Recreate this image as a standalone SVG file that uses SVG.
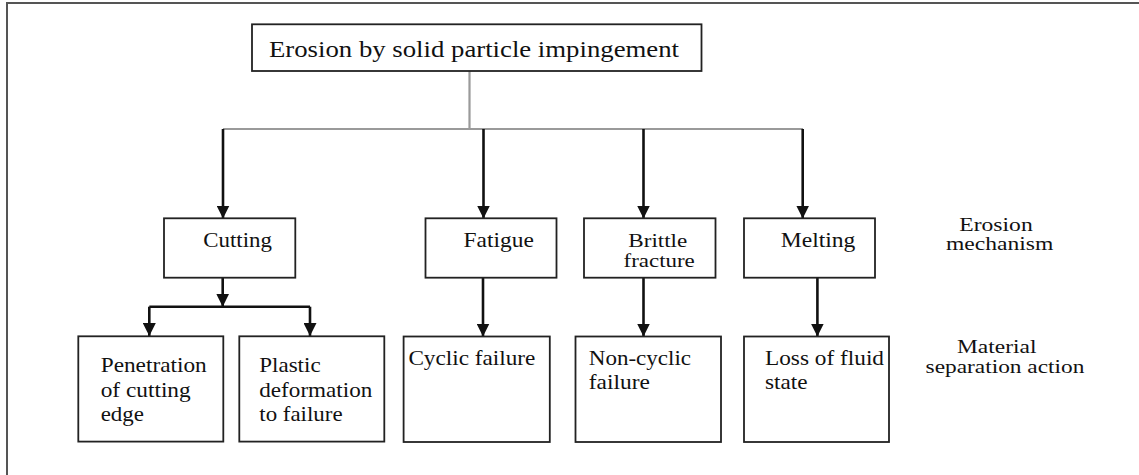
<svg xmlns="http://www.w3.org/2000/svg" width="1139" height="475" viewBox="0 0 1139 475">
<style>
.box{fill:#fff;stroke:#222;stroke-width:1.8}
.t{font-family:"Liberation Serif","Times New Roman",serif;font-size:21px;fill:#111}
.s{font-size:18.5px}
.title{font-size:24px}
.gray{fill:none;stroke:#9a9a9a;stroke-width:2.2}
.arr{fill:none;stroke:#111;stroke-width:2.6}
</style>
<defs>
<marker id="ah" viewBox="0 0 13 13" markerUnits="userSpaceOnUse" markerWidth="13" markerHeight="13" refX="13" refY="6.5" orient="auto">
<path d="M0,0 L13,6.5 L0,13 z" fill="#111"/>
</marker>
</defs>
<rect width="1139" height="475" fill="#fff"/>
<path d="M7,475 V3 H1139" fill="none" stroke="#555" stroke-width="2"/>

<g id="connectors">
<path class="gray" d="M469.5,71 V129 M223,129 H803"/>
<path class="arr" d="M223,129 V218.5" marker-end="url(#ah)"/>
<path class="arr" d="M483.5,129 V218.5" marker-end="url(#ah)"/>
<path class="arr" d="M643.5,129 V218.5" marker-end="url(#ah)"/>
<path class="arr" d="M802.7,129 V218.5" marker-end="url(#ah)"/>
<path class="arr" d="M222.7,278 V306.7" marker-end="url(#ah)"/>
<path class="arr" d="M149.3,306.7 H310"/>
<path class="arr" d="M149.3,306.7 V336" marker-end="url(#ah)"/>
<path class="arr" d="M310,306.7 V336" marker-end="url(#ah)"/>
<path class="arr" d="M483,278 V336.5" marker-end="url(#ah)"/>
<path class="arr" d="M643.5,278 V336.5" marker-end="url(#ah)"/>
<path class="arr" d="M817.4,278 V336.5" marker-end="url(#ah)"/>
</g>

<g id="root">
<rect class="box" x="252" y="24.3" width="449.5" height="46.7"/>
<text class="t title" x="269" y="56.7" textLength="410" lengthAdjust="spacingAndGlyphs">Erosion by solid particle impingement</text>
</g>

<g id="cutting">
<rect class="box" x="164" y="218.3" width="131.3" height="59.4"/>
<text class="t" x="203.3" y="246.7" textLength="68.7" lengthAdjust="spacingAndGlyphs">Cutting</text>
</g>
<g id="fatigue">
<rect class="box" x="425.5" y="218.3" width="131" height="59.4"/>
<text class="t" x="463.6" y="246.7" textLength="70.2" lengthAdjust="spacingAndGlyphs">Fatigue</text>
</g>
<g id="brittle">
<rect class="box" x="584" y="218.3" width="131.5" height="59.4"/>
<text class="t s" x="628.3" y="246.7" textLength="59" lengthAdjust="spacingAndGlyphs">Brittle</text>
<text class="t s" x="623.5" y="266.7" textLength="71.3" lengthAdjust="spacingAndGlyphs">fracture</text>
</g>
<g id="melting">
<rect class="box" x="744" y="218.3" width="131" height="59.4"/>
<text class="t" x="780.8" y="246.7" textLength="74.6" lengthAdjust="spacingAndGlyphs">Melting</text>
</g>

<g id="penetration">
<rect class="box" x="78.3" y="336.3" width="145" height="105.3"/>
<text class="t" x="100.7" y="371.7" textLength="106" lengthAdjust="spacingAndGlyphs">Penetration</text>
<text class="t" x="100.7" y="396.7" textLength="90" lengthAdjust="spacingAndGlyphs">of cutting</text>
<text class="t" x="100.7" y="420.5" textLength="43.3" lengthAdjust="spacingAndGlyphs">edge</text>
</g>
<g id="plastic">
<rect class="box" x="239.3" y="336.3" width="145" height="105.3"/>
<text class="t" x="259.3" y="371.7" textLength="61.3" lengthAdjust="spacingAndGlyphs">Plastic</text>
<text class="t" x="259.3" y="396.7" textLength="113" lengthAdjust="spacingAndGlyphs">deformation</text>
<text class="t" x="259.3" y="420.5" textLength="83.3" lengthAdjust="spacingAndGlyphs">to failure</text>
</g>
<g id="cyclic">
<rect class="box" x="403.6" y="336.5" width="146.2" height="105.5"/>
<text class="t" x="408.4" y="365" textLength="127" lengthAdjust="spacingAndGlyphs">Cyclic failure</text>
</g>
<g id="noncyclic">
<rect class="box" x="575.5" y="336.5" width="145.5" height="105.5"/>
<text class="t" x="588.8" y="365" textLength="102.3" lengthAdjust="spacingAndGlyphs">Non-cyclic</text>
<text class="t" x="588.8" y="389.3" textLength="61" lengthAdjust="spacingAndGlyphs">failure</text>
</g>
<g id="loss">
<rect class="box" x="744" y="336.5" width="145" height="105.5"/>
<text class="t" x="765" y="365" textLength="119" lengthAdjust="spacingAndGlyphs">Loss of fluid</text>
<text class="t" x="765" y="389.3" textLength="42.5" lengthAdjust="spacingAndGlyphs">state</text>
</g>

<g id="label-mechanism">
<text class="t s" x="959.3" y="230.7" textLength="73.4" lengthAdjust="spacingAndGlyphs">Erosion</text>
<text class="t s" x="946" y="250" textLength="107.3" lengthAdjust="spacingAndGlyphs">mechanism</text>
</g>
<g id="label-separation">
<text class="t s" x="957" y="353.3" textLength="79.4" lengthAdjust="spacingAndGlyphs">Material</text>
<text class="t s" x="925.6" y="372.7" textLength="158.8" lengthAdjust="spacingAndGlyphs">separation action</text>
</g>
</svg>
